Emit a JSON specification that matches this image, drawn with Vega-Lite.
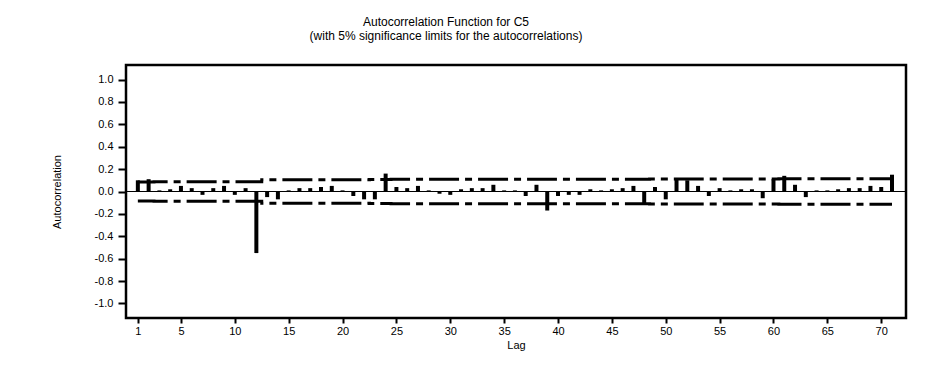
{
  "$schema": "https://vega.github.io/schema/vega-lite/v6.json",
  "width": 780,
  "height": 253,
  "autosize": {"type": "none"},
  "padding": {"left": 126, "top": 65, "right": 35, "bottom": 47},
  "background": "white",
  "title": {
    "text": ["Autocorrelation Function for C5", "(with 5% significance limits for the autocorrelations)"],
    "anchor": "middle",
    "dx": -70,
    "offset": 22,
    "fontSize": 12,
    "fontWeight": "normal",
    "font": "Liberation Sans",
    "color": "black",
    "lineHeight": 14
  },
  "config": {
    "view": {"stroke": "black", "strokeWidth": 2.5},
    "axis": {
      "domain": false,
      "grid": false,
      "labelOverlap": false,
      "labelFont": "Liberation Sans",
      "labelFontSize": 11,
      "labelColor": "black",
      "titleFont": "Liberation Sans",
      "titleFontSize": 11,
      "titleFontWeight": "normal",
      "titleColor": "black",
      "tickColor": "black",
      "tickWidth": 2
    }
  },
  "data": {
    "values": [
      {"lag": 1, "acf": 0.10, "ul": 0.084, "ll": -0.084},
      {"lag": 2, "acf": 0.11, "ul": 0.085, "ll": -0.085},
      {"lag": 3, "acf": 0.01, "ul": 0.086, "ll": -0.086},
      {"lag": 4, "acf": 0.02, "ul": 0.086, "ll": -0.086},
      {"lag": 5, "acf": 0.05, "ul": 0.086, "ll": -0.086},
      {"lag": 6, "acf": 0.03, "ul": 0.086, "ll": -0.086},
      {"lag": 7, "acf": -0.03, "ul": 0.086, "ll": -0.086},
      {"lag": 8, "acf": 0.03, "ul": 0.086, "ll": -0.086},
      {"lag": 9, "acf": 0.05, "ul": 0.087, "ll": -0.087},
      {"lag": 10, "acf": -0.03, "ul": 0.087, "ll": -0.087},
      {"lag": 11, "acf": 0.03, "ul": 0.087, "ll": -0.087},
      {"lag": 12, "acf": -0.55, "ul": 0.087, "ll": -0.087},
      {"lag": 13, "acf": -0.05, "ul": 0.106, "ll": -0.106},
      {"lag": 14, "acf": -0.07, "ul": 0.106, "ll": -0.106},
      {"lag": 15, "acf": 0.01, "ul": 0.106, "ll": -0.106},
      {"lag": 16, "acf": 0.03, "ul": 0.106, "ll": -0.106},
      {"lag": 17, "acf": 0.03, "ul": 0.106, "ll": -0.106},
      {"lag": 18, "acf": 0.04, "ul": 0.106, "ll": -0.106},
      {"lag": 19, "acf": 0.05, "ul": 0.106, "ll": -0.106},
      {"lag": 20, "acf": 0.01, "ul": 0.106, "ll": -0.106},
      {"lag": 21, "acf": -0.04, "ul": 0.106, "ll": -0.106},
      {"lag": 22, "acf": -0.07, "ul": 0.106, "ll": -0.106},
      {"lag": 23, "acf": -0.07, "ul": 0.107, "ll": -0.107},
      {"lag": 24, "acf": 0.16, "ul": 0.107, "ll": -0.107},
      {"lag": 25, "acf": 0.04, "ul": 0.109, "ll": -0.109},
      {"lag": 26, "acf": 0.03, "ul": 0.109, "ll": -0.109},
      {"lag": 27, "acf": 0.05, "ul": 0.109, "ll": -0.109},
      {"lag": 28, "acf": 0.01, "ul": 0.109, "ll": -0.109},
      {"lag": 29, "acf": -0.02, "ul": 0.109, "ll": -0.109},
      {"lag": 30, "acf": -0.03, "ul": 0.109, "ll": -0.109},
      {"lag": 31, "acf": 0.02, "ul": 0.109, "ll": -0.109},
      {"lag": 32, "acf": 0.03, "ul": 0.109, "ll": -0.109},
      {"lag": 33, "acf": 0.03, "ul": 0.109, "ll": -0.109},
      {"lag": 34, "acf": 0.06, "ul": 0.109, "ll": -0.109},
      {"lag": 35, "acf": 0.01, "ul": 0.109, "ll": -0.109},
      {"lag": 36, "acf": 0.01, "ul": 0.109, "ll": -0.109},
      {"lag": 37, "acf": -0.04, "ul": 0.109, "ll": -0.109},
      {"lag": 38, "acf": 0.06, "ul": 0.109, "ll": -0.109},
      {"lag": 39, "acf": -0.17, "ul": 0.109, "ll": -0.109},
      {"lag": 40, "acf": -0.04, "ul": 0.110, "ll": -0.110},
      {"lag": 41, "acf": -0.03, "ul": 0.110, "ll": -0.110},
      {"lag": 42, "acf": -0.03, "ul": 0.110, "ll": -0.110},
      {"lag": 43, "acf": 0.02, "ul": 0.110, "ll": -0.110},
      {"lag": 44, "acf": 0.01, "ul": 0.110, "ll": -0.110},
      {"lag": 45, "acf": 0.02, "ul": 0.110, "ll": -0.110},
      {"lag": 46, "acf": 0.03, "ul": 0.110, "ll": -0.110},
      {"lag": 47, "acf": 0.05, "ul": 0.110, "ll": -0.110},
      {"lag": 48, "acf": -0.12, "ul": 0.110, "ll": -0.110},
      {"lag": 49, "acf": 0.04, "ul": 0.111, "ll": -0.111},
      {"lag": 50, "acf": -0.07, "ul": 0.111, "ll": -0.111},
      {"lag": 51, "acf": 0.11, "ul": 0.111, "ll": -0.111},
      {"lag": 52, "acf": 0.10, "ul": 0.112, "ll": -0.112},
      {"lag": 53, "acf": 0.05, "ul": 0.112, "ll": -0.112},
      {"lag": 54, "acf": -0.04, "ul": 0.112, "ll": -0.112},
      {"lag": 55, "acf": 0.03, "ul": 0.112, "ll": -0.112},
      {"lag": 56, "acf": 0.01, "ul": 0.112, "ll": -0.112},
      {"lag": 57, "acf": 0.02, "ul": 0.112, "ll": -0.112},
      {"lag": 58, "acf": 0.02, "ul": 0.112, "ll": -0.112},
      {"lag": 59, "acf": -0.06, "ul": 0.112, "ll": -0.112},
      {"lag": 60, "acf": 0.11, "ul": 0.112, "ll": -0.112},
      {"lag": 61, "acf": 0.14, "ul": 0.113, "ll": -0.113},
      {"lag": 62, "acf": 0.06, "ul": 0.114, "ll": -0.114},
      {"lag": 63, "acf": -0.05, "ul": 0.114, "ll": -0.114},
      {"lag": 64, "acf": 0.01, "ul": 0.114, "ll": -0.114},
      {"lag": 65, "acf": 0.01, "ul": 0.114, "ll": -0.114},
      {"lag": 66, "acf": 0.02, "ul": 0.114, "ll": -0.114},
      {"lag": 67, "acf": 0.03, "ul": 0.114, "ll": -0.114},
      {"lag": 68, "acf": 0.03, "ul": 0.114, "ll": -0.114},
      {"lag": 69, "acf": 0.05, "ul": 0.114, "ll": -0.114},
      {"lag": 70, "acf": 0.04, "ul": 0.114, "ll": -0.114},
      {"lag": 71, "acf": 0.15, "ul": 0.114, "ll": -0.114}
    ]
  },
  "encoding": {
    "y": {
      "type": "quantitative",
      "title": "Autocorrelation",
      "scale": {"domain": [-1.13, 1.13], "nice": false, "zero": false},
      "axis": {"values": [-1, -0.8, -0.6, -0.4, -0.2, 0, 0.2, 0.4, 0.6, 0.8, 1], "labelOverlap": false, "labelExpr": "replace(format(datum.value, '.1f'), '\u2212', '-')", "tickSize": 8, "labelPadding": 5, "titlePadding": 32}
    }
  },
  "layer": [
    {
      "mark": {"type": "rule", "color": "black", "strokeWidth": 1.2},
      "encoding": {
        "y": {"datum": 0, "type": "quantitative"}
      }
    },
    {
      "mark": {"type": "line", "interpolate": "step", "color": "black", "strokeWidth": 3, "strokeDash": [30, 6, 7, 6]},
      "encoding": {
        "x": {"field": "lag", "type": "quantitative", "title": "Lag"},
        "y": {"field": "ul", "type": "quantitative"}
      }
    },
    {
      "mark": {"type": "line", "interpolate": "step", "color": "black", "strokeWidth": 3, "strokeDash": [30, 6, 7, 6]},
      "encoding": {
        "x": {"field": "lag", "type": "quantitative", "title": "Lag"},
        "y": {"field": "ll", "type": "quantitative"}
      }
    },
    {
      "mark": {"type": "rule", "color": "black", "strokeWidth": 4},
      "encoding": {
        "x": {
          "field": "lag",
          "type": "quantitative",
          "title": "Lag",
          "scale": {"domain": [-0.1, 72.3], "nice": false, "zero": false},
          "axis": {"values": [1, 5, 10, 15, 20, 25, 30, 35, 40, 45, 50, 55, 60, 65, 70], "labelAngle": 0, "labelOverlap": false, "tickSize": 5, "labelPadding": 2, "titlePadding": 3, "labelFlush": false}
        },
        "y": {"field": "acf", "type": "quantitative"},
        "y2": {"datum": 0}
      }
    }
  ]
}
